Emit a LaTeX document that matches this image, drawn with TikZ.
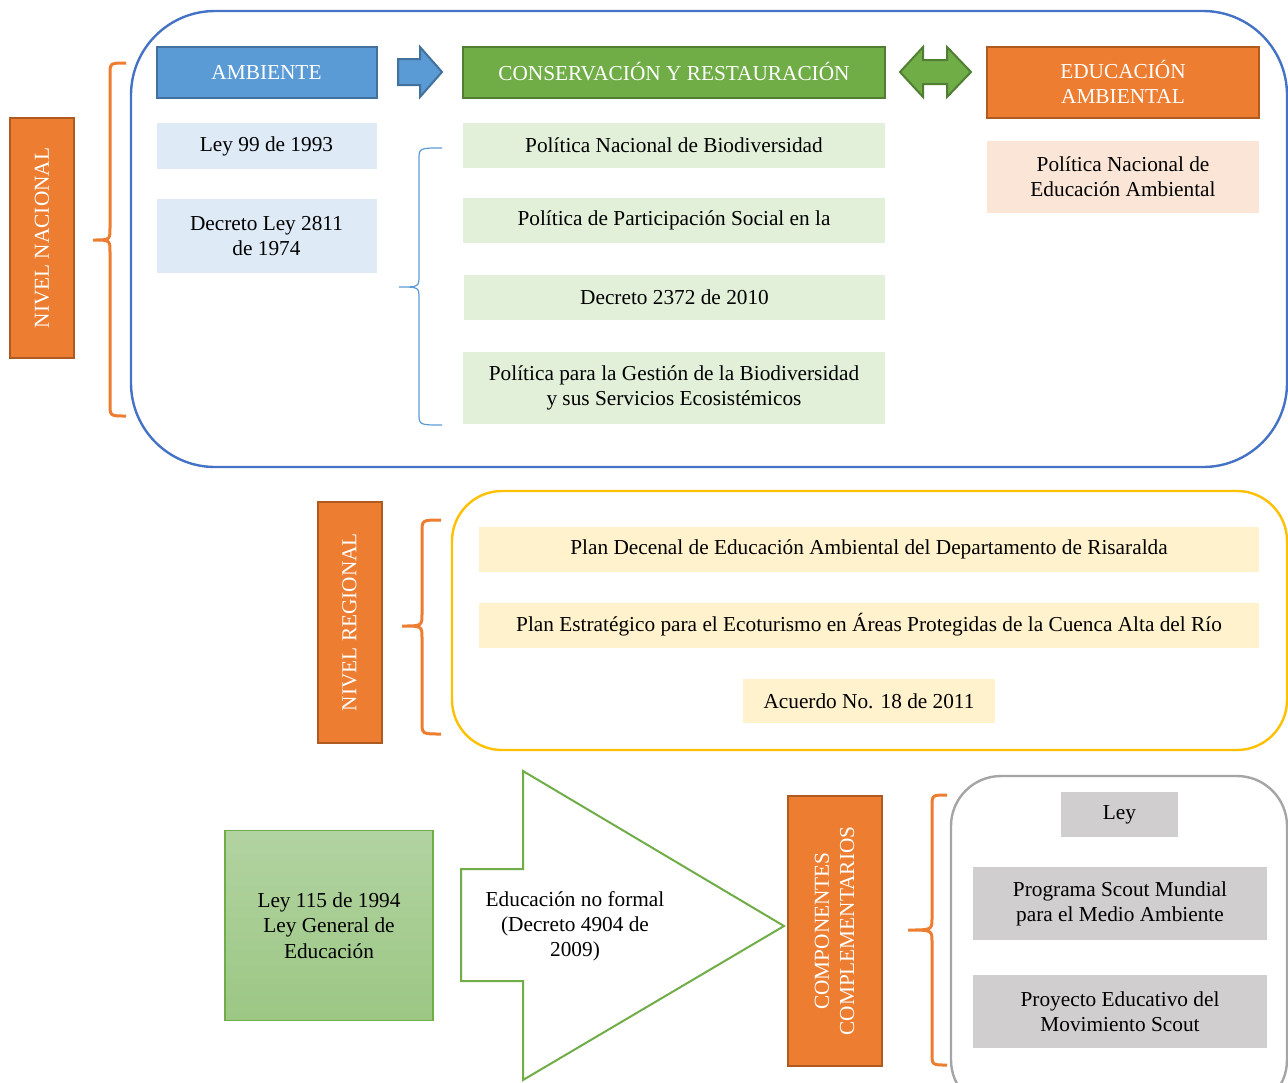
\documentclass[tikz,border=0pt]{standalone}
\usepackage{fontspec}
\setmainfont{Liberation Serif}

\definecolor{naranja}{HTML}{ED7D31}
\definecolor{naranjaosc}{HTML}{AE5A21}
\definecolor{azul}{HTML}{5B9BD5}
\definecolor{azulosc}{HTML}{41719C}
\definecolor{azulmarco}{HTML}{4472C4}
\definecolor{verde}{HTML}{70AD47}
\definecolor{verdeosc}{HTML}{507E32}
\definecolor{azulclaro}{HTML}{DEEBF7}
\definecolor{verdeclaro}{HTML}{E2F0D9}
\definecolor{durazno}{HTML}{FBE5D6}
\definecolor{amarillo}{HTML}{FFC000}
\definecolor{amarilloclaro}{HTML}{FFF2CC}
\definecolor{gris}{HTML}{A5A5A5}
\definecolor{grisclaro}{HTML}{D0CECE}
\definecolor{verdearriba}{HTML}{B2D3A1}
\definecolor{verdeabajo}{HTML}{9CC784}

% llave: punta, eje, extremos, arriba, centro, abajo
\newcommand{\llave}[6]{%
  (#3,#4) .. controls (#2,#4) .. (#2,{#4+12}) -- (#2,{#5-12})
  .. controls (#2,#5) .. (#1,#5) .. controls (#2,#5) .. (#2,{#5+12})
  -- (#2,{#6-12}) .. controls (#2,#6) .. (#3,#6)}

\begin{document}
\begin{tikzpicture}[x=0.5pt, y=-0.5pt,
  font=\fontsize{10.65}{12.6}\selectfont,
  every node/.style={align=center, inner sep=0pt},
  nivel/.style={draw=naranjaosc, fill=naranja, line width=1pt, text=white, rotate=90},
  titulo/.style={line width=1pt, text=white, minimum height=25.5pt},
  item/.style={minimum height=22.5pt},
  marco/.style={line width=1.2pt, rounded corners=25pt},
  llavenar/.style={draw=naranja, line width=1.5pt}]
\useasboundingbox (0,0) rectangle (1288,1082);
\clip (0,0) rectangle (1288,1082);

% nivel nacional
\draw[marco, draw=azulmarco, rounded corners=42pt] (131,11) rectangle (1287,467);
\node[nivel, minimum width=120pt, minimum height=32pt] (nacional) at (42,238) {NIVEL NACIONAL};
\draw[llavenar] \llave{93}{110}{126}{63}{240}{416};

\node[titulo, draw=azulosc, fill=azul, minimum width=110pt] (ambiente) at (266.5,72) {AMBIENTE};
\node[titulo, draw=verdeosc, fill=verde, minimum width=211pt] (conserv) at (674,72) {CONSERVACIÓN Y RESTAURACIÓN};
\node[titulo, draw=naranjaosc, fill=naranja, minimum width=136pt, minimum height=35.5pt] (educa) at (1123,82) {EDUCACIÓN\\AMBIENTAL};

\draw[draw=azulosc, fill=azul, line width=1pt]
  (398,59) -- (420,59) -- (420,47) -- (442,72) -- (420,97) -- (420,85) -- (398,85) -- cycle;
\draw[draw=verdeosc, fill=verde, line width=1pt]
  (900,72) -- (923,47) -- (923,60) -- (947,60) -- (947,47) -- (971,72)
  -- (947,97) -- (947,84) -- (923,84) -- (923,97) -- cycle;

\node[item, fill=azulclaro, minimum width=110pt, minimum height=23pt] (ley99) at (266.5,146) {Ley 99 de 1993};
\node[item, fill=azulclaro, minimum width=110pt, minimum height=37pt] (dec2811) at (266.5,236) {Decreto Ley 2811\\de 1974};

\draw[draw=azul, line width=0.6pt] \llave{399}{419}{442}{148}{287}{425};
\node[item, fill=verdeclaro, minimum width=211pt] (biodiv) at (674,145.5) {Política Nacional de Biodiversidad};
\node[item, fill=verdeclaro, minimum width=211pt] (particip) at (674,220.5) {Política de Participación Social en la};
\node[item, fill=verdeclaro, minimum width=210.5pt] (dec2372) at (674.5,297.5) {Decreto 2372 de 2010};
\node[item, fill=verdeclaro, minimum width=211pt, minimum height=36pt] (gestion) at (674,388) {Política para la Gestión de la Biodiversidad\\y sus Servicios Ecosistémicos};

\node[item, fill=durazno, minimum width=136pt, minimum height=36pt] (pnea) at (1123,177) {Política Nacional de\\Educación Ambiental};

% nivel regional
\draw[marco, draw=amarillo] (452,491) rectangle (1287,750);
\node[nivel, minimum width=120.5pt, minimum height=32pt] (regional) at (349.5,622) {NIVEL REGIONAL};
\draw[llavenar] \llave{402}{422}{441}{520}{626}{734};

\node[item, fill=amarilloclaro, minimum width=390pt] (decenal) at (869,549) {Plan Decenal de Educación Ambiental del Departamento de Risaralda};
\node[item, fill=amarilloclaro, minimum width=390pt] (ecotur) at (869,625) {Plan Estratégico para el Ecoturismo en Áreas Protegidas de la Cuenca Alta del Río};
\node[item, fill=amarilloclaro, minimum width=126pt, minimum height=22pt] (acuerdo) at (869,701) {Acuerdo No. 18 de 2011};

% componentes complementarios
\node[draw=verde, line width=0.6pt, top color=verdearriba, bottom color=verdeabajo,
  minimum width=104pt, minimum height=95pt] (ley115) at (329,925.5) {Ley 115 de 1994\\Ley General de\\Educación};
\draw[draw=verde, fill=white, line width=1pt]
  (461,869) -- (523,869) -- (523,771) -- (784,926) -- (523,1080) -- (523,981) -- (461,981) -- cycle;
\node (noformal) at (575,926) {Educación no formal\\(Decreto 4904 de\\2009)};

\node[nivel, minimum width=135pt, minimum height=47pt] (compl) at (834.5,931) {COMPONENTES\\COMPLEMENTARIOS};
\draw[llavenar] \llave{908}{932}{947}{795}{930}{1065};

\draw[marco, draw=gris] (951,776) rectangle (1287,1110);
\node[item, fill=grisclaro, minimum width=58.5pt] (ley) at (1119.5,814.5) {Ley};
\node[item, fill=grisclaro, minimum width=147pt, minimum height=36.5pt] (scout) at (1120,903.5) {Programa Scout Mundial\\para el Medio Ambiente};
\node[item, fill=grisclaro, minimum width=147pt, minimum height=36.5pt] (movim) at (1120,1011.5) {Proyecto Educativo del\\Movimiento Scout};
\end{tikzpicture}
\end{document}
